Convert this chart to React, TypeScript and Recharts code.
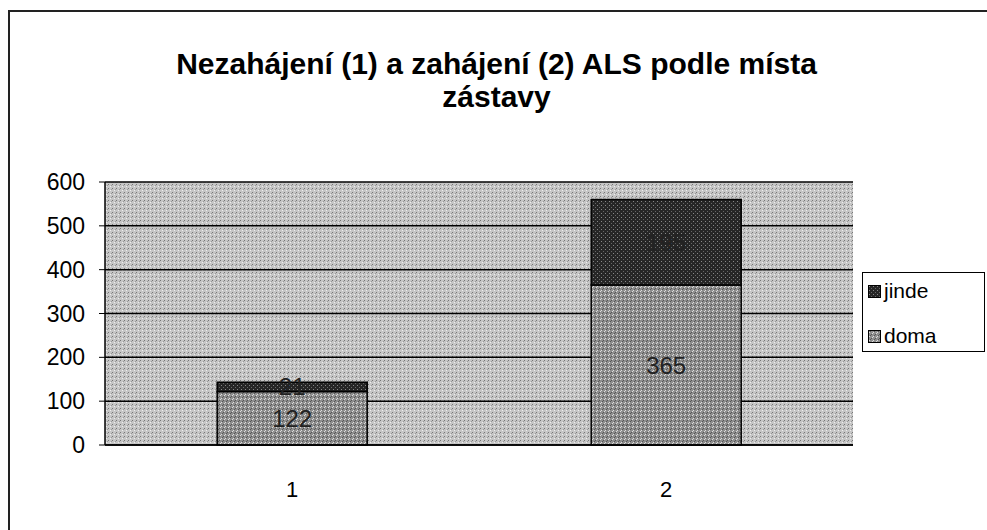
import { BarChart, Bar, XAxis, YAxis, CartesianGrid, LabelList } from 'recharts'

const categories = ['1', '2']
const doma = [122, 365]
const jinde = [21, 195]
const yTicks = [0, 100, 200, 300, 400, 500, 600]

const data = categories.map((c, i) => ({ cat: c, doma: doma[i], jinde: jinde[i] }))

const FONT = "'Liberation Sans', Arial, sans-serif"

function LegendBox() {
  const items = [
    { name: 'jinde', fill: 'url(#pJinde)' },
    { name: 'doma', fill: 'url(#pDoma)' },
  ]
  return (
    <div style={{ position: 'absolute', left: 862, top: 272, border: '1px solid #000', background: '#fff', width: 123, height: 80, boxSizing: 'border-box', padding: '0 0 0 5px', fontFamily: FONT, fontSize: 21 }}>
      {items.map(it => (
        <div key={it.name} style={{ display: 'flex', alignItems: 'center', height: 36, marginBottom: 9 }}>
          <svg width={13} height={13} style={{ marginRight: 3 }}>
            <rect x={0.5} y={0.5} width={12} height={12} fill={it.fill} stroke="#000" />
          </svg>
          <span>{it.name}</span>
        </div>
      ))}
    </div>
  )
}

export default function App() {
  return (
    <div style={{ position: 'absolute', left: 0, top: 0, width: 987, height: 530, background: '#fff', overflow: 'hidden' }}>
      <div style={{ position: 'absolute', left: 8, top: 10, width: 1000, height: 560, border: '2px solid #222', boxSizing: 'border-box' }} />
      <div style={{ position: 'absolute', left: 0, top: 47, width: 987, textAlign: 'center', fontFamily: FONT, fontWeight: 700, fontSize: 30, lineHeight: '33px', color: '#000' }}>
        <div style={{ marginLeft: 6 }}>Nezahájení (1) a zahájení (2) ALS podle místa</div>
        <div style={{ marginLeft: 6 }}>zástavy</div>
      </div>
      <BarChart width={987} height={530} data={data} margin={{ top: 182, right: 134, left: 45, bottom: 55 }} barCategoryGap="30%" style={{ position: 'absolute', left: 0, top: 0 }}>
        <defs>
          <pattern id="pBg" width={4} height={4} patternUnits="userSpaceOnUse">
            <rect width={4} height={4} fill="#c6c6c6" />
            <rect x={0} y={0} width={1} height={1} fill="#777" />
            <rect x={2} y={2} width={1} height={1} fill="#eee" />
            <rect x={3} y={1} width={1} height={1} fill="#999" />
          </pattern>
          <pattern id="pDoma" width={4} height={4} patternUnits="userSpaceOnUse">
            <rect width={4} height={4} fill="#8e8e8e" />
            <rect x={0} y={3} width={1} height={1} fill="#ddd" />
            <rect x={1} y={2} width={1} height={1} fill="#ddd" />
            <rect x={2} y={1} width={1} height={1} fill="#555" />
            <rect x={3} y={0} width={1} height={1} fill="#555" />
          </pattern>
          <pattern id="pJinde" width={4} height={4} patternUnits="userSpaceOnUse">
            <rect width={4} height={4} fill="#262626" />
            <rect x={1} y={1} width={1} height={1} fill="#888" />
            <rect x={3} y={3} width={1} height={1} fill="#666" />
          </pattern>
        </defs>
        <CartesianGrid vertical={false} stroke="#000" strokeWidth={1.5} fill="url(#pBg)" fillOpacity={1} />
        <XAxis dataKey="cat" axisLine={{ stroke: '#000', strokeWidth: 1.5 }} tickLine={false} tick={{ fill: '#000', fontSize: 22, fontFamily: FONT, dy: 28 }} height={30} />
        <YAxis domain={[0, 600]} ticks={yTicks} interval={0} width={60} axisLine={{ stroke: '#000', strokeWidth: 1.5 }} tickLine={{ stroke: '#000' }} tickSize={6} tick={{ fill: '#000', fontSize: 23, fontFamily: FONT, dx: -12 }} />
        <Bar dataKey="doma" stackId="a" fill="url(#pDoma)" stroke="#000" strokeWidth={1.5} isAnimationActive={false}>
          <LabelList dataKey="doma" position="center" fill="#222" fontSize={24} fontFamily={FONT} />
        </Bar>
        <Bar dataKey="jinde" stackId="a" fill="url(#pJinde)" stroke="#000" strokeWidth={1.5} isAnimationActive={false}>
          <LabelList dataKey="jinde" position="center" fill="#222" fontSize={24} fontFamily={FONT} />
        </Bar>
      </BarChart>
      <LegendBox />
    </div>
  )
}
